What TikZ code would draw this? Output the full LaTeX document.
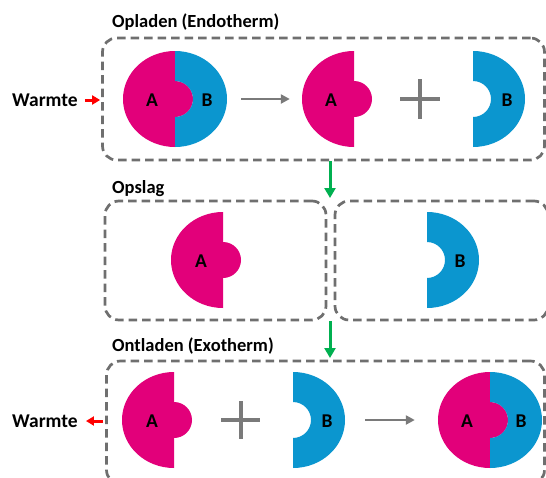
\documentclass[tikz,border=0pt]{standalone}
\usepackage{fontspec}
\setmainfont{Carlito}
\usetikzlibrary{arrows.meta}
\definecolor{pinkc}{HTML}{E2007A}
\definecolor{bluec}{HTML}{0B96CF}
\definecolor{dgray}{HTML}{6F6F6F}
\definecolor{agray}{HTML}{7A7A7A}
\definecolor{greenc}{HTML}{00B050}
\definecolor{redc}{HTML}{FF0000}
\newcommand\ttlfont{\fontsize{18.5}{22}\selectfont\bfseries}
\newcommand\lblfont{\fontsize{19.5}{22}\selectfont\bfseries}
\newcommand\molA[2]{%
  \fill[pinkc] (#1,#2-48) arc[start angle=-90,end angle=-270,x radius=52,y radius=48]
    -- (#1,#2+18) arc[start angle=90,end angle=-90,radius=18] -- cycle;}
\newcommand\molB[2]{%
  \fill[bluec] (#1,#2-48) arc[start angle=-90,end angle=90,x radius=52,y radius=48]
    -- (#1,#2+18) arc[start angle=90,end angle=-90,radius=18] -- cycle;}
\tikzset{
  dbox/.style={draw=dgray, line width=2.7pt, dash pattern=on 8.5pt off 5pt, rounded corners=14pt, inner sep=0pt},
  mol/.style={inner sep=0pt, minimum width=104pt, minimum height=96pt},
  lbl/.style={font=\lblfont, inner sep=0pt},
  title/.style={font=\ttlfont, inner sep=0pt, anchor=base west},
  grarrow/.style={draw=agray, line width=2.5pt, -{Triangle[length=9pt,width=9pt]}},
  greenarrow/.style={draw=greenc, line width=3pt, -{Triangle[length=10pt,width=11pt]}},
  redarrow/.style={draw=redc, line width=3pt, -{Triangle[length=8pt,width=9pt]}},
  plusline/.style={draw=agray, line width=4pt},
}
\begin{document}
\begin{tikzpicture}[x=1pt,y=-1pt]
\useasboundingbox (0,0) rectangle (546,477);
\clip (0,0) rectangle (546,477);
\fill[white] (0,0) rectangle (546,477);

% titles
\node[title] (t1) at (112,27) {Opladen (Endotherm)};
\node[title] (t2) at (112,193) {Opslag};
\node[title] (t3) at (112,351) {Ontladen (Exotherm)};

% boxes
\node[dbox, minimum width=442pt, minimum height=122pt] (topbox) at (323.5,99) {};
\node[dbox, minimum width=221pt, minimum height=119pt] (box1) at (215.5,260.5) {};
\node[dbox, minimum width=213pt, minimum height=119pt] (box2) at (441.5,260.5) {};
\node[dbox, minimum width=438pt, minimum height=123pt] (botbox) at (325.5,422.5) {};

% top row
\molA{175}{99}\molB{175}{99}
\node[mol] (c1) at (175,99) {};
\node[lbl] at (152,100) {A};
\node[lbl] at (207,100) {B};
\molA{354}{99}
\node[mol] (a1) at (354,99) {};
\node[lbl] at (331,100) {A};
\draw[plusline] (400,99) -- (440,99) (420,79) -- (420,119);
\molB{473}{99}
\node[mol] (b1) at (473,99) {};
\node[lbl] at (507,100) {B};
\draw[grarrow, shorten <=14pt, shorten >=12pt] (c1.east) -- (a1.west);

% Warmte top
\node[lbl] (w1) at (45,100) {Warmte};
\draw[redarrow, shorten <=7pt, shorten >=1pt] (w1.east) -- (topbox.west |- w1.east);

% storage
\molA{223}{260}
\node[mol] (a2) at (223,260) {};
\node[lbl] at (201,261) {A};
\molB{427}{260}
\node[mol] (b2) at (427,260) {};
\node[lbl] at (460,261) {B};

% green arrows
\coordinate (g1s) at (330,161);
\coordinate (g1e) at (330,198);
\coordinate (g2s) at (330,321);
\coordinate (g2e) at (330,358);
\draw[greenarrow] (g1s) -- (g1e);
\draw[greenarrow] (g2s) -- (g2e);

% bottom row
\molA{174}{420}
\node[mol] (a3) at (174,420) {};
\node[lbl] at (152,421) {A};
\draw[plusline] (221,420) -- (260,420) (240.5,401) -- (240.5,439);
\molB{293}{420}
\node[mol] (b3) at (293,420) {};
\node[lbl] at (327,421) {B};
\molA{490}{420}\molB{490}{420}
\node[mol] (c3) at (490,420) {};
\node[lbl] at (467,421) {A};
\node[lbl] at (521,421) {B};
\draw[grarrow, shorten <=20pt, shorten >=23pt] (b3.east) -- (c3.west);

% Warmte bottom
\node[lbl] (w2) at (45,421) {Warmte};
\draw[redarrow, shorten <=2pt, shorten >=8pt] (botbox.west |- w2.east) -- (w2.east);
\end{tikzpicture}
\end{document}
